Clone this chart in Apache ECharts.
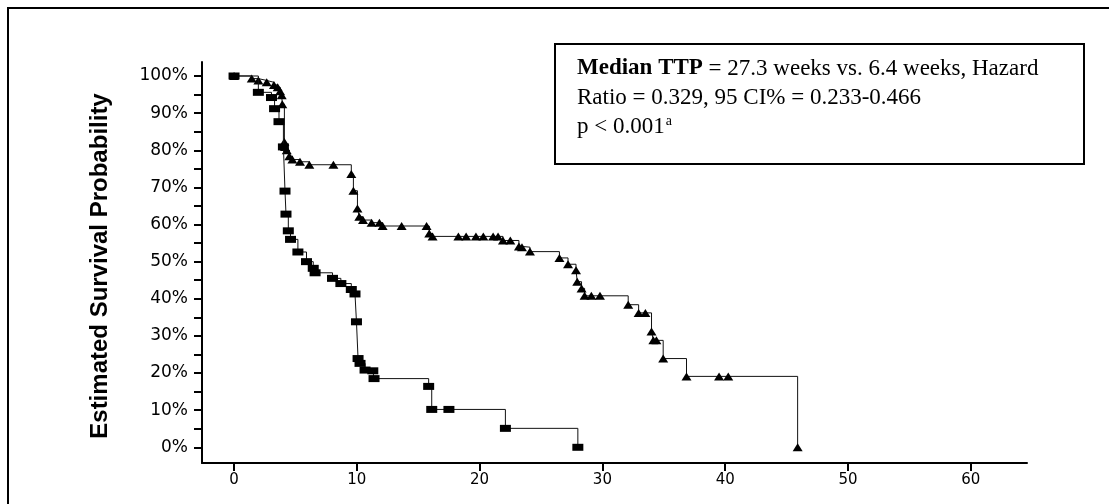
<!DOCTYPE html>
<html>
<head>
<meta charset="utf-8">
<script src="https://cdn.jsdelivr.net/npm/echarts@6/dist/echarts.min.js"></script>
<style>
  html, body { margin: 0; padding: 0; background: #fff; }
  #chart { width: 1109px; height: 504px; }
</style>
</head>
<body>
<div id="chart"></div>
<script>
// time in weeks, estimated survival in %
const ctrlWeeks = [0, 1.98, 3.05, 3.3, 3.66, 4.02, 4.15, 4.23, 4.42, 4.6, 5.2, 5.9, 6.45, 6.6, 8.02, 8.7, 9.55, 9.85, 9.97, 10.1, 10.26, 10.67, 11.3, 11.4, 15.85, 16.1, 17.5, 22.1, 28.0];
const ctrlSurv  = [100, 95.6, 94.2, 91.2, 87.7, 80.9, 69.0, 62.8, 58.3, 56.0, 52.6, 50.0, 48.2, 47.0, 45.5, 44.1, 42.5, 41.3, 33.8, 23.9, 22.6, 20.8, 20.6, 18.5, 16.4, 10.2, 10.2, 5.1, 0];

const treatWeeks = [0, 1.44, 1.98, 2.66, 3.25, 3.55, 3.75, 3.88, 3.93, 4.1, 4.15, 4.29, 4.5, 4.75, 5.37, 6.13, 8.09, 9.55, 9.72, 10.05, 10.2, 10.5, 11.2, 11.84, 12.1, 13.65, 15.68, 15.9, 16.17, 18.27, 18.9, 19.7, 20.3, 21.1, 21.5, 21.9, 22.5, 23.2, 23.45, 24.1, 26.5, 27.2, 27.85, 27.95, 28.3, 28.55, 29.1, 29.8, 32.1, 32.95, 33.5, 34.0, 34.15, 34.4, 34.95, 36.85, 39.5, 40.25, 45.9];
const treatSurv  = [100, 99.3, 98.8, 98.3, 97.6, 97.0, 95.9, 94.8, 92.4, 82.2, 80.9, 80.0, 78.4, 77.5, 76.9, 76.1, 76.1, 73.6, 69.1, 64.3, 62.1, 61.2, 60.5, 60.5, 59.6, 59.6, 59.6, 57.6, 56.8, 56.8, 56.8, 56.8, 56.8, 56.8, 56.8, 55.7, 55.7, 54.1, 53.9, 52.7, 51.0, 49.3, 47.7, 44.6, 42.8, 40.8, 40.8, 40.8, 38.4, 36.2, 36.2, 31.2, 28.8, 28.8, 23.9, 19.1, 19.1, 19.1, 0];

const xTickLabels = [0, 10, 20, 30, 40, 50, 60];
const yTickMarks = [0, 5, 10, 15, 20, 25, 30, 35, 40, 45, 50, 55, 60, 65, 70, 75, 80, 85, 90, 95, 100];
const yTickLabels = [0, 10, 20, 30, 40, 50, 60, 70, 80, 90, 100];

const yTitle = 'Estimated Survival Probability';
const noteLine1 = 'Median TTP';
const noteLine1Rest = ' = 27.3 weeks vs. 6.4 weeks, Hazard';
const noteLine2 = 'Ratio = 0.329, 95 CI% = 0.233-0.466';
const noteLine3 = 'p < 0.001';

const zip = (a, b) => a.map((v, i) => [v, b[i]]);

const tickFont = 'DejaVu Sans';

let myChart = echarts.init(document.getElementById('chart'));
let option = {
  animation: false,
  backgroundColor: '#fff',
  grid: { left: 202, right: 82, top: 62, bottom: 41 },
  xAxis: {
    type: 'value',
    min: -2.61,
    max: 64.58,
    splitLine: { show: false },
    axisLine: { onZero: false, lineStyle: { color: '#000', width: 2 } },
    axisTick: { show: true, length: 8, customValues: xTickLabels, lineStyle: { color: '#000', width: 2 } },
    axisLabel: { customValues: xTickLabels, color: '#000', fontFamily: tickFont, fontSize: 15, margin: 10 }
  },
  yAxis: {
    type: 'value',
    min: -4.23,
    max: 103.77,
    splitLine: { show: false },
    axisLine: { show: true, onZero: false, lineStyle: { color: '#000', width: 2 } },
    axisTick: { show: true, length: 8, customValues: yTickMarks, lineStyle: { color: '#000', width: 2 } },
    axisLabel: { customValues: yTickLabels, formatter: '{value}%', color: '#000', fontFamily: tickFont, fontSize: 17, margin: 14 }
  },
  graphic: [
    { type: 'rect', shape: { x: 8, y: 8, width: 1120, height: 520 }, style: { fill: null, stroke: '#000', lineWidth: 2 }, silent: true },
    { type: 'rect', shape: { x: 555, y: 44, width: 529, height: 120 }, style: { fill: '#fff', stroke: '#000', lineWidth: 2 }, z: 10 },
    {
      type: 'text', x: 577, y: 54, z: 11,
      style: {
        text: '{b|' + noteLine1 + '}{r|' + noteLine1Rest + '}\n{r|' + noteLine2 + '}\n{r|' + noteLine3 + '}{s|a}',
        fill: '#000',
        rich: {
          b: { fontFamily: 'Liberation Serif', fontWeight: 'bold', fontSize: 23, lineHeight: 29 },
          r: { fontFamily: 'Liberation Serif', fontSize: 23, lineHeight: 29 },
          s: { fontFamily: 'Liberation Serif', fontSize: 14, lineHeight: 29, verticalAlign: 'top', padding: [2, 0, 0, 1] }
        }
      }
    },
    {
      type: 'text', x: 100, y: 266, rotation: Math.PI / 2,
      style: { text: yTitle, fill: '#000', fontFamily: 'Liberation Sans', fontWeight: 'bold', fontSize: 24, align: 'center', verticalAlign: 'middle' }
    }
  ],
  series: [
    {
      name: 'treatment',
      type: 'line',
      step: 'end',
      data: zip(treatWeeks, treatSurv),
      symbol: 'triangle',
      symbolSize: [10, 8],
      showAllSymbol: true,
      itemStyle: { color: '#000' },
      lineStyle: { color: '#111', width: 1 },
      z: 2
    },
    {
      name: 'control',
      type: 'line',
      step: 'end',
      data: zip(ctrlWeeks, ctrlSurv),
      symbol: 'rect',
      symbolSize: [11, 7],
      showAllSymbol: true,
      itemStyle: { color: '#000' },
      lineStyle: { color: '#111', width: 1 },
      z: 3
    }
  ]
};
myChart.setOption(option);
</script>
</body>
</html>
